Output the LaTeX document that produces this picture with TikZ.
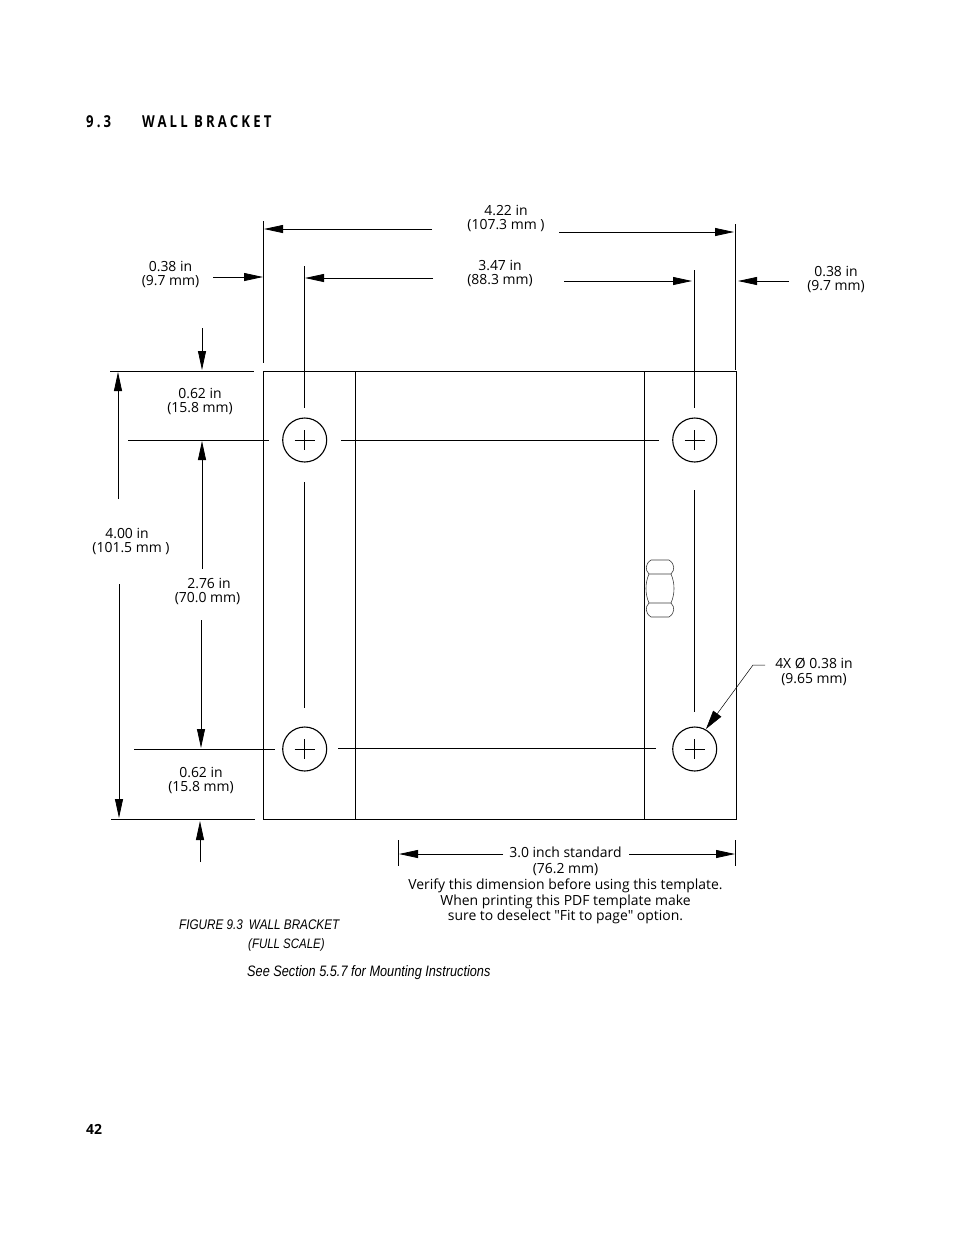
\documentclass[tikz,border=0pt]{standalone}
\usepackage{fontspec}
\setmainfont{Open Sans}
\newfontfamily\labfont{Open Sans}
\newfontfamily\capfont[FakeStretch=0.84]{Liberation Sans}
\newfontfamily\headfont[FakeStretch=0.8]{Open Sans}
\usetikzlibrary{arrows.meta}
\begin{document}
\begin{tikzpicture}[x=1bp,y=-1bp,
  dim/.style={line width=0.8bp,-{Stealth[length=19bp,width=8bp,inset=0pt]}},
  plain/.style={line width=0.8bp},
  body/.style={line width=1.1bp},
  lab/.style={inner sep=0pt,align=center,font=\labfont\fontsize{14}{14.4}\selectfont},
  captext/.style={inner sep=0pt,anchor=west,font=\capfont\itshape\fontsize{14}{15}\selectfont},
  headtext/.style={inner sep=0pt,anchor=west,font=\headfont\bfseries\fontsize{16.5}{17}\selectfont},
]
\useasboundingbox (0,0) rectangle (954,1235);
\fill[white] (0,0) rectangle (954,1235);
% header / footer
\node[headtext] (num) at (86,121.5) {\addfontfeature{LetterSpace=19}9.3};
\node[headtext] (head) at (142,121.5) {\addfontfeature{LetterSpace=19}WALL BRACKET};
\node[inner sep=0pt,anchor=west,font=\bfseries\fontsize{14}{15}\selectfont] (page) at (86,1129) {42};
% bracket
\node[draw,body,inner sep=0pt,minimum width=473.4bp,minimum height=448bp,anchor=north west] (plate) at (262.8,371.2) {};
\coordinate (lt) at (355.5,371); \coordinate (lb) at (355.5,819.6);
\coordinate (rt) at (644.5,371); \coordinate (rb) at (644.5,819.6);
\draw[body] (lt)--(lb); \draw[body] (rt)--(rb);
% holes
\foreach \n/\x/\y in {ha/304.7/440,hb/694.7/440,hc/304.7/749,hd/694.7/749}{
  \node[draw,circle,line width=1.1bp,minimum size=44bp,inner sep=0pt] (\n) at (\x,\y) {};
  \draw[line width=0.7bp] (\x-10,\y)--(\x+10,\y) (\x,\y-10)--(\x,\y+10);
}
% nut
\draw[line width=0.6bp,black!75] (649,574) .. controls (645,570) and (645,564) .. (651,560) -- (669,560) .. controls (675,564) and (675,570) .. (671,574) -- cycle;
\draw[line width=0.6bp,black!75] (649,603) .. controls (645,607) and (645,613) .. (651,617) -- (669,617) .. controls (675,613) and (675,607) .. (671,603) -- cycle;
\draw[line width=0.6bp,black!75] (649,574) .. controls (645,583) and (645,594) .. (649,603);
\draw[line width=0.6bp,black!75] (671,574) .. controls (675,583) and (675,594) .. (671,603);
% named ends
\coordinate (e1a) at (263.7,221); \coordinate (e1b) at (263.7,363);
\coordinate (e2a) at (735.6,224); \coordinate (e2b) at (735.6,370);
\coordinate (e3a) at (304.7,266); \coordinate (e3b) at (304.7,408);
\coordinate (e4a) at (694.7,270); \coordinate (e4b) at (694.7,408);
\draw[plain] (e1a)--(e1b); \draw[plain] (e2a)--(e2b); \draw[plain] (e3a)--(e3b); \draw[plain] (e4a)--(e4b);
\coordinate (h1a) at (110,371); \coordinate (h1b) at (254,371);
\coordinate (h2a) at (111,819.6); \coordinate (h2b) at (255,819.6);
\coordinate (h3a) at (128,440); \coordinate (h3b) at (269,440);
\coordinate (h4a) at (134,749); \coordinate (h4b) at (275,749);
\coordinate (c1a) at (341,440); \coordinate (c1b) at (659,440);
\coordinate (c2a) at (338,748); \coordinate (c2b) at (656,748);
\coordinate (v1a) at (304.7,482); \coordinate (v1b) at (304.7,708);
\coordinate (v2a) at (694.7,490); \coordinate (v2b) at (694.7,712);
\coordinate (s1a) at (398,840); \coordinate (s1b) at (398,866);
\coordinate (s2a) at (735.6,840); \coordinate (s2b) at (735.6,866);
\foreach \a/\b in {h1a/h1b,h2a/h2b,h3a/h3b,h4a/h4b,c1a/c1b,c2a/c2b,v1a/v1b,v2a/v2b,s1a/s1b,s2a/s2b}{\draw[plain] (\a)--(\b);}
% labels
\node[lab] (t422) at (506,218.5) {4.22 in\\(107.3 mm )};
\node[lab] (t347) at (500,273.5) {3.47 in\\(88.3 mm)};
\node[lab] (t38l) at (170.5,274.5) {0.38 in\\(9.7 mm)};
\node[lab] (t38r) at (836,279.5) {0.38 in\\(9.7 mm)};
\node[lab] (t62t) at (200,401.5) {0.62 in\\(15.8 mm)};
\node[lab] (t400) at (131,541.5) {4.00 in\hspace*{8bp}\\(101.5 mm )};
\node[lab] (t276) at (207.5,591.5) {\hspace*{3bp}2.76 in\\(70.0 mm)};
\node[lab] (t62b) at (201,780.5) {0.62 in\\(15.8 mm)};
\node[lab] (thole) at (814,672) {4X Ø 0.38 in\\(9.65 mm)};
\node[lab,anchor=north] (t30) at (565.5,847) {3.0 inch standard\\[1.4bp](76.2 mm)\\[1.4bp]Verify this dimension before using this template.\\[1.4bp]When printing this PDF template make\\[1.4bp]sure to deselect "Fit to page" option.};
% arrows
\coordinate (a1s) at (432,229); \coordinate (a1e) at (264,229);
\coordinate (a2s) at (559,232); \coordinate (a2e) at (734,232);
\coordinate (a3s) at (433,278); \coordinate (a3e) at (305,278);
\coordinate (a4s) at (564,281); \coordinate (a4e) at (692,281);
\coordinate (a5s) at (213,277); \coordinate (a5e) at (263,277);
\coordinate (a6s) at (789,281); \coordinate (a6e) at (738,281);
\coordinate (a7s) at (118,499); \coordinate (a7e) at (118,372);
\coordinate (a8s) at (119,584); \coordinate (a8e) at (119,818);
\coordinate (a9s) at (202,328); \coordinate (a9e) at (202,370);
\coordinate (a10s) at (202,569); \coordinate (a10e) at (202,441);
\coordinate (a11s) at (201,620); \coordinate (a11e) at (201,748);
\coordinate (a12s) at (200,862); \coordinate (a12e) at (200,821);
\coordinate (a13s) at (503,854); \coordinate (a13e) at (399,854);
\coordinate (a14s) at (629,854); \coordinate (a14e) at (735,854);
\foreach \i in {1,...,14}{\draw[dim] (a\i s)--(a\i e);}
% leader
\coordinate (l0) at (765,665); \coordinate (l1) at (753,665); \coordinate (l2) at (706,729);
\draw[line width=0.5bp,-{Stealth[length=19bp,width=10bp,inset=0pt]}] (l0)--(l1)--(l2);
% caption
\node[captext] (c1) at (179,925) {FIGURE 9.3\hspace{6bp}WALL BRACKET};
\node[captext,font=\capfont\itshape\fontsize{13.7}{15}\selectfont] (c2) at (248,945) {(FULL SCALE)};
\node[captext,font=\capfont\itshape\fontsize{15.2}{16}\selectfont] (c3) at (247,972.5) {See Section 5.5.7 for Mounting Instructions};
\end{tikzpicture}
\end{document}
